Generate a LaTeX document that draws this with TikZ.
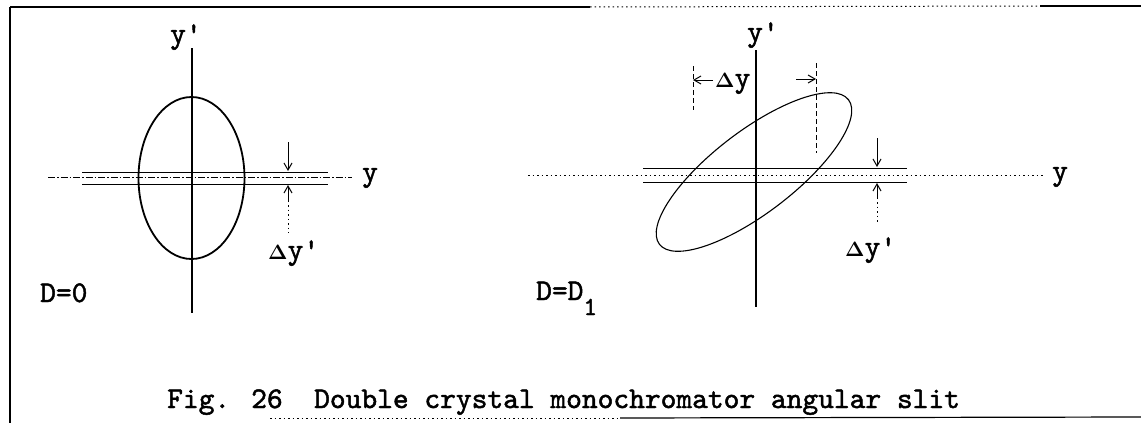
\documentclass[tikz,border=0pt]{standalone}
\usepackage{fontspec}
\newfontfamily\twfont[FakeBold=1.6]{lmmono10-regular.otf}
\usetikzlibrary{arrows.meta}
\newcommand{\dlt}{{\fontsize{22}{22}\selectfont\boldmath$\Delta$}}
\begin{document}
\begin{tikzpicture}[x=1pt,y=-1pt,
  lbl/.style={font=\fontsize{30}{36}\selectfont\twfont, inner sep=0pt, anchor=base west},
  axisline/.style={line width=1.6pt},
  slitline/.style={line width=1pt},
  haxis/.style={line width=0.8pt, dash pattern=on 7pt off 2pt on 1.5pt off 2pt},
  arr/.style={line width=1pt, -{Straight Barb[length=7pt,width=8pt]}},
  dimline/.style={line width=0.9pt, dash pattern=on 5pt off 3pt},
  dotline/.style={line width=1pt, dash pattern=on 1.5pt off 3pt}]
\useasboundingbox (0,0) rectangle (1141,423);
% ---- frame ----
\coordinate (ftl) at (10,7);
\coordinate (fbl) at (10,423);
\coordinate (ftm) at (590,7);
\coordinate (ftn) at (1040,6);
\coordinate (ftr) at (1141,6);
\draw[line width=2.2pt] (fbl) -- (ftl);
\draw[line width=1.4pt] (ftl) -- (ftm);
\draw[dotline] (ftm) -- (ftn);
\draw[line width=1.4pt] (ftn) -- (ftr);
\coordinate (fb1) at (270,418);
\coordinate (fb2) at (620,418);
\coordinate (fb3) at (1141,417);
\draw[dotline] (fb1) -- (fb2);
\draw[line width=1.2pt] (fb2) -- (fb3);

% ---- left diagram (D=0) ----
\coordinate (Lc) at (191.5,178);
\draw[line width=1.8pt] (Lc) ellipse [x radius=53pt, y radius=81pt];
\coordinate (Lat) at (192,48);
\coordinate (Lab) at (192,313);
\draw[axisline] (Lat) -- (Lab);
\coordinate (Lh1) at (48,177);
\coordinate (Lh2) at (352,177);
\draw[haxis] (Lh1) -- (Lh2);
\coordinate (Ls1a) at (82,172);
\coordinate (Ls1b) at (328,172);
\coordinate (Ls2a) at (82,184);
\coordinate (Ls2b) at (328,184);
\draw[slitline] (Ls1a) -- (Ls1b);
\draw[slitline] (Ls2a) -- (Ls2b);
\coordinate (Ld1) at (288,142);
\coordinate (Ld2) at (288,171);
\coordinate (Lu1) at (288,202);
\coordinate (Lu2) at (288,185);
\coordinate (Lt1) at (288,205);
\coordinate (Lt2) at (288,233);
\draw[arr] (Ld1) -- (Ld2);
\draw[arr] (Lu1) -- (Lu2);
\draw[dotline] (Lt1) -- (Lt2);
\node[lbl] (Lyp) at (170,43) {y'};
\node[lbl] (Ly) at (362,181) {y};
\node[lbl] (Ldyp) at (268,259) {\dlt y'};
\node[lbl] (LD) at (40,302) {D=0};

% ---- right diagram (D=D1) ----
\coordinate (Rc) at (754,172);
\draw[line width=1.1pt, rotate around={37.4:(Rc)}] (Rc) ellipse [x radius=119pt, y radius=41pt];
\coordinate (Rat) at (756,50);
\coordinate (Rab) at (756,307);
\draw[axisline] (Rat) -- (Rab);
\coordinate (Rh1) at (528,175);
\coordinate (Rh2) at (1045,175);
\draw[dotline] (Rh1) -- (Rh2);
\coordinate (Rs1a) at (643,168);
\coordinate (Rs1b) at (907,168);
\coordinate (Rs2a) at (643,182);
\coordinate (Rs2b) at (907,182);
\draw[slitline] (Rs1a) -- (Rs1b);
\draw[slitline] (Rs2a) -- (Rs2b);
\coordinate (Rd1) at (877,138);
\coordinate (Rd2) at (877,167);
\coordinate (Ru1) at (877,199);
\coordinate (Ru2) at (877,183);
\coordinate (Rt1) at (877,202);
\coordinate (Rt2) at (877,224);
\draw[arr] (Rd1) -- (Rd2);
\draw[arr] (Ru1) -- (Ru2);
\draw[dotline] (Rt1) -- (Rt2);
% delta y dimension
\coordinate (Dl1) at (693,66);
\coordinate (Dl2) at (693,110);
\coordinate (Dr1) at (816,63);
\coordinate (Dr2) at (816,153);
\draw[dimline] (Dl1) -- (Dl2);
\draw[dimline] (Dr1) -- (Dr2);
\coordinate (Da1) at (713,80);
\coordinate (Da2) at (693,80);
\coordinate (Db1) at (796,79);
\coordinate (Db2) at (816,79);
\draw[arr] (Da1) -- (Da2);
\draw[arr] (Db1) -- (Db2);
\node[lbl] (Rdy) at (715,87) {\dlt y};
\node[lbl] (Ryp) at (747,41) {y'};
\node[lbl] (Ry) at (1052,180) {y};
\node[lbl] (Rdyp) at (845,256) {\dlt y'};
\node[lbl] (RD) at (536,300) {D=D{\fontsize{26}{26}\selectfont\raisebox{-15pt}{1}}};

% ---- caption ----
\node[lbl] (cap) at (167,408) {Fig. 26\ \ Double crystal monochromator angular slit};
\end{tikzpicture}
\end{document}
